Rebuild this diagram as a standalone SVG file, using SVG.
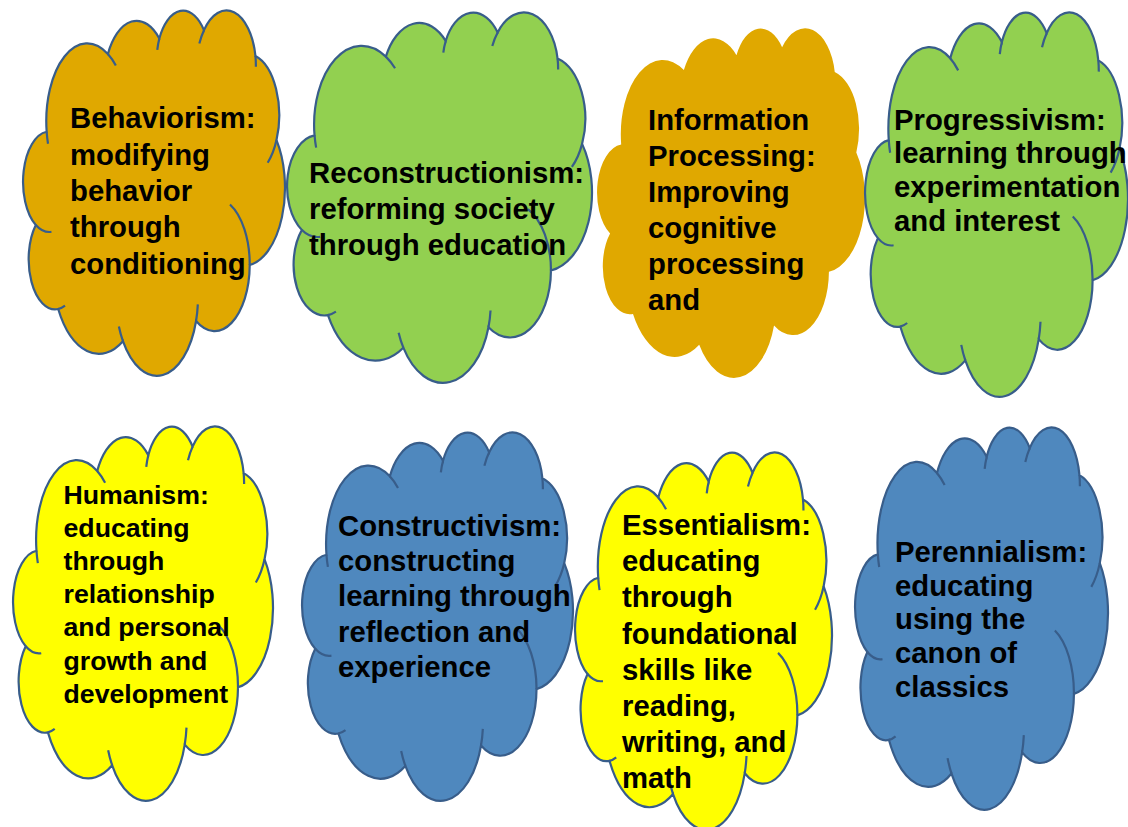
<svg xmlns="http://www.w3.org/2000/svg" xmlns:xlink="http://www.w3.org/1999/xlink" width="1128" height="827" viewBox="0 0 1128 827">
  <style>
    .label { font-family: "Liberation Sans", Arial, sans-serif; font-weight: bold; font-size: 29.3px; fill: #000000; }
    .label.small { font-size: 26.7px; }
    .orange { fill: #E0A800; }
    .green { fill: #92D050; }
    .yellow { fill: #FFFF00; }
    .blue { fill: #4F88BE; }
    .edge { stroke: #385D8A; stroke-width: 2.2; }
    .arcs { fill: none; stroke: #385D8A; stroke-width: 2.2; }
  </style>
  <defs>
    <!-- cloud outline in a 43200 x 43200 unit box -->
    <path id="cloud" vector-effect="non-scaling-stroke" d="M3900 14370 A6753 9190 0 0 1 14000 5192 A5333 7267 0 0 1 22480 3370 A4365 5945 0 0 1 29840 2380 A4857 6595 0 0 1 38324 5426 A5333 7273 0 0 1 41798 15354 A6775 9220 0 0 1 37384 30097 A5785 7867 0 0 1 28536 36708 A6752 9215 0 0 1 16478 39090 A7720 10543 0 0 1 5803 35296 A4360 5918 0 0 1 2111 25374 A4345 5945 0 0 1 3900 14370 Z"/>
    <!-- short inner arcs where the puffs overlap -->
    <path id="cloud-arcs" vector-effect="non-scaling-stroke" d="M4693 26177 A4345 5945 0 0 1 2111 25374 M6928 34899 A4360 5918 0 0 1 5803 35296 M16478 39090 A6752 9215 0 0 1 15810 37350 M28827 34751 A6752 9215 0 0 1 28536 36708 M34129 22954 A5785 7867 0 0 1 37384 30097 M41798 15354 A5333 7273 0 0 1 40350 18030 M38324 5426 A4857 6595 0 0 1 38400 6690 M29078 3952 A4857 6595 0 0 1 29840 2380 M22141 4720 A4365 5945 0 0 1 22480 3370 M14000 5192 A6753 9190 0 0 1 15305 6550 M4127 15789 A6753 9190 0 0 1 3900 14370"/>
  </defs>

  <g id="connectors"/>

  <g id="behaviorism">
    <g transform="translate(23 10) scale(0.0060648 0.0084722)">
      <use xlink:href="#cloud" href="#cloud" class="orange edge"/>
      <use xlink:href="#cloud-arcs" href="#cloud-arcs" class="arcs"/>
    </g>
    <text class="label">
      <tspan x="70" y="128">Behaviorism:</tspan>
      <tspan x="70" y="164.5">modifying</tspan>
      <tspan x="70" y="200.5">behavior</tspan>
      <tspan x="70" y="237">through</tspan>
      <tspan x="70" y="273.5">conditioning</tspan>
    </text>
  </g>

  <g id="reconstructionism">
    <g transform="translate(287 12) scale(0.0070602 0.0085880)">
      <use xlink:href="#cloud" href="#cloud" class="green edge"/>
      <use xlink:href="#cloud-arcs" href="#cloud-arcs" class="arcs"/>
    </g>
    <text class="label">
      <tspan x="309" y="182.5">Reconstructionism:</tspan>
      <tspan x="309" y="218.5">reforming society</tspan>
      <tspan x="309" y="255">through education</tspan>
    </text>
  </g>

  <g id="information-processing">
    <g transform="translate(597 28) scale(0.0062037 0.0081019)">
      <use xlink:href="#cloud" href="#cloud" class="orange"/>
    </g>
    <text class="label">
      <tspan x="648" y="130">Information</tspan>
      <tspan x="648" y="166">Processing:</tspan>
      <tspan x="648" y="202">Improving</tspan>
      <tspan x="648" y="238">cognitive</tspan>
      <tspan x="648" y="274">processing</tspan>
      <tspan x="648" y="309.5">and</tspan>
    </text>
  </g>

  <g id="progressivism">
    <g transform="translate(865 12) scale(0.0060880 0.0089120)">
      <use xlink:href="#cloud" href="#cloud" class="green edge"/>
      <use xlink:href="#cloud-arcs" href="#cloud-arcs" class="arcs"/>
    </g>
    <text class="label">
      <tspan x="894" y="129.5">Progressivism:</tspan>
      <tspan x="894" y="163.2">learning through</tspan>
      <tspan x="894" y="196.9">experimentation</tspan>
      <tspan x="894" y="230.6">and interest</tspan>
    </text>
  </g>

  <g id="humanism">
    <g transform="translate(13 426) scale(0.0060185 0.0086806)">
      <use xlink:href="#cloud" href="#cloud" class="yellow edge"/>
      <use xlink:href="#cloud-arcs" href="#cloud-arcs" class="arcs"/>
    </g>
    <text class="label small">
      <tspan x="63.5" y="503.5">Humanism:</tspan>
      <tspan x="63.5" y="536.7">educating</tspan>
      <tspan x="63.5" y="569.9">through</tspan>
      <tspan x="63.5" y="603.1">relationship</tspan>
      <tspan x="63.5" y="636.3">and personal</tspan>
      <tspan x="63.5" y="669.5">growth and</tspan>
      <tspan x="63.5" y="702.7">development</tspan>
    </text>
  </g>

  <g id="constructivism">
    <g transform="translate(302 432) scale(0.0062731 0.0085417)">
      <use xlink:href="#cloud" href="#cloud" class="blue edge"/>
      <use xlink:href="#cloud-arcs" href="#cloud-arcs" class="arcs"/>
    </g>
    <text class="label">
      <tspan x="338" y="536">Constructivism:</tspan>
      <tspan x="338" y="571.2">constructing</tspan>
      <tspan x="338" y="606.4">learning through</tspan>
      <tspan x="338" y="641.6">reflection and</tspan>
      <tspan x="338" y="676.8">experience</tspan>
    </text>
  </g>

  <g id="essentialism">
    <g transform="translate(575 452) scale(0.0059491 0.0087500)">
      <use xlink:href="#cloud" href="#cloud" class="yellow edge"/>
      <use xlink:href="#cloud-arcs" href="#cloud-arcs" class="arcs"/>
    </g>
    <text class="label">
      <tspan x="622" y="535">Essentialism:</tspan>
      <tspan x="622" y="571.2">educating</tspan>
      <tspan x="622" y="607.4">through</tspan>
      <tspan x="622" y="643.6">foundational</tspan>
      <tspan x="622" y="679.8">skills like</tspan>
      <tspan x="622" y="716">reading,</tspan>
      <tspan x="622" y="752.2">writing, and</tspan>
      <tspan x="622" y="788.4">math</tspan>
    </text>
  </g>

  <g id="perennialism">
    <g transform="translate(855 427) scale(0.0058565 0.0088657)">
      <use xlink:href="#cloud" href="#cloud" class="blue edge"/>
      <use xlink:href="#cloud-arcs" href="#cloud-arcs" class="arcs"/>
    </g>
    <text class="label">
      <tspan x="895" y="562">Perennialism:</tspan>
      <tspan x="895" y="595.7">educating</tspan>
      <tspan x="895" y="629.4">using the</tspan>
      <tspan x="895" y="663.1">canon of</tspan>
      <tspan x="895" y="696.8">classics</tspan>
    </text>
  </g>
</svg>
